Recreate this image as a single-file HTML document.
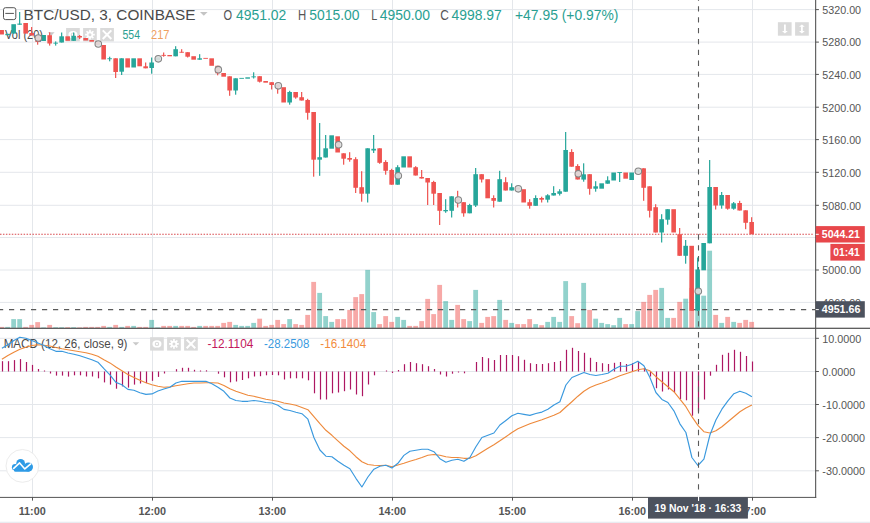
<!DOCTYPE html>
<html><head><meta charset="utf-8"><title>BTC/USD chart</title><style>html,body{margin:0;padding:0;background:#fff;width:870px;height:523px;overflow:hidden}</style></head><body><svg width="870" height="523" viewBox="0 0 870 523" style="position:absolute;left:0;top:0;font-family:'Liberation Sans',sans-serif">
<rect x="0" y="0" width="870" height="523" fill="#ffffff"/>
<rect x="0" y="521.7" width="870" height="2" fill="#e9ebf0"/>
<rect x="32.0" y="0" width="1" height="497" fill="#e4e7eb"/>
<rect x="152.0" y="0" width="1" height="497" fill="#e4e7eb"/>
<rect x="272.0" y="0" width="1" height="497" fill="#e4e7eb"/>
<rect x="392.0" y="0" width="1" height="497" fill="#e4e7eb"/>
<rect x="512.0" y="0" width="1" height="497" fill="#e4e7eb"/>
<rect x="632.0" y="0" width="1" height="497" fill="#e4e7eb"/>
<rect x="752.0" y="0" width="1" height="497" fill="#e4e7eb"/>
<rect x="0" y="9.10" width="815" height="1" fill="#e4e7eb"/>
<rect x="0" y="41.60" width="815" height="1" fill="#e4e7eb"/>
<rect x="0" y="73.90" width="815" height="1" fill="#e4e7eb"/>
<rect x="0" y="106.70" width="815" height="1" fill="#e4e7eb"/>
<rect x="0" y="139.10" width="815" height="1" fill="#e4e7eb"/>
<rect x="0" y="171.80" width="815" height="1" fill="#e4e7eb"/>
<rect x="0" y="204.80" width="815" height="1" fill="#e4e7eb"/>
<rect x="0" y="237.00" width="815" height="1" fill="#e4e7eb"/>
<rect x="0" y="269.50" width="815" height="1" fill="#e4e7eb"/>
<rect x="0" y="301.90" width="815" height="1" fill="#e4e7eb"/>
<rect x="0" y="337.80" width="815" height="1" fill="#e4e7eb"/>
<rect x="0" y="371.00" width="815" height="1" fill="#e4e7eb"/>
<rect x="0" y="404.00" width="815" height="1" fill="#e4e7eb"/>
<rect x="0" y="437.10" width="815" height="1" fill="#e4e7eb"/>
<rect x="0" y="470.30" width="815" height="1" fill="#e4e7eb"/>
<rect x="3.5" y="7.7" width="12.3" height="11.9" rx="2" fill="#fff" stroke="#555" stroke-width="1"/>
<rect x="5.3" y="12.9" width="8.6" height="1" fill="#555"/>
<text x="23.6" y="19.5" font-size="15.5" fill="#4a4a4a" textLength="171.9" lengthAdjust="spacingAndGlyphs">BTC/USD, 3, COINBASE</text>
<path d="M200 12 L207.6 12 L203.8 15.7 Z" fill="#c4c4c4"/>
<g font-size="14.8">
<text x="223.6" y="19.9" fill="#555" textLength="8.6" lengthAdjust="spacingAndGlyphs">O</text><text x="236" y="19.9" fill="#2a9f92" textLength="50.3" lengthAdjust="spacingAndGlyphs">4951.02</text>
<text x="298" y="19.9" fill="#555" textLength="8.2" lengthAdjust="spacingAndGlyphs">H</text><text x="309.3" y="19.9" fill="#2a9f92" textLength="50.2" lengthAdjust="spacingAndGlyphs">5015.00</text>
<text x="371.2" y="19.9" fill="#555" textLength="6" lengthAdjust="spacingAndGlyphs">L</text><text x="379.7" y="19.9" fill="#2a9f92" textLength="50.3" lengthAdjust="spacingAndGlyphs">4950.00</text>
<text x="440.2" y="19.9" fill="#555" textLength="8.6" lengthAdjust="spacingAndGlyphs">C</text><text x="451.5" y="19.9" fill="#2a9f92" textLength="50.2" lengthAdjust="spacingAndGlyphs">4998.97</text>
<text x="515" y="19.9" fill="#2a9f92" textLength="103.5" lengthAdjust="spacingAndGlyphs">+47.95 (+0.97%)</text>
</g>
<text x="5" y="38.8" font-size="12" fill="#4a4a4a" textLength="38" lengthAdjust="spacingAndGlyphs">Vol (20)</text>
<path d="M48 32.3 L54.6 32.3 L51.3 35.7 Z" fill="#c9c9c9"/>
<rect x="66.1" y="28" width="13.7" height="13.4" fill="#dadada"/>
<rect x="83.1" y="28" width="13.7" height="13.4" fill="#dadada"/>
<rect x="100.2" y="28" width="13.7" height="13.4" fill="#dadada"/>
<ellipse cx="72.94999999999999" cy="34.7" rx="4.5" ry="3.6" fill="#fff"/>
<circle cx="72.94999999999999" cy="34.7" r="2.2" fill="#d9d9d9"/>
<circle cx="72.94999999999999" cy="34.7" r="1.1" fill="#fff"/>
<path d="M94.78,33.87 L94.78,35.53 L93.14,35.55 L92.80,36.36 L93.95,37.53 L92.78,38.70 L91.61,37.55 L90.80,37.89 L90.78,39.53 L89.12,39.53 L89.10,37.89 L88.29,37.55 L87.12,38.70 L85.95,37.53 L87.10,36.36 L86.76,35.55 L85.12,35.53 L85.12,33.87 L86.76,33.85 L87.10,33.04 L85.95,31.87 L87.12,30.70 L88.29,31.85 L89.10,31.51 L89.12,29.87 L90.78,29.87 L90.80,31.51 L91.61,31.85 L92.78,30.70 L93.95,31.87 L92.80,33.04 L93.14,33.85Z" fill="#fff"/>
<circle cx="89.94999999999999" cy="34.7" r="1.5" fill="#d9d9d9"/>
<path d="M102.75 30.400000000000002 L111.35 39.0 M111.35 30.400000000000002 L102.75 39.0" stroke="#fff" stroke-width="2" fill="none"/>
<text x="122.5" y="38.9" font-size="12.5" fill="#2a9f92" textLength="17.5" lengthAdjust="spacingAndGlyphs">554</text>
<text x="151" y="38.9" font-size="12.5" fill="#f0a060" textLength="18.5" lengthAdjust="spacingAndGlyphs">217</text>
<rect x="777.9" y="22.2" width="13.7" height="13.5" fill="#dadada"/>
<rect x="795.1" y="22.2" width="13.7" height="13.5" fill="#dadada"/>
<path d="M784 24.6 h1.8 v6.4 h2 l-2.9 2.4 l-2.9 -2.4 h2 z" fill="#fff"/>
<path d="M801.9 24.4 l2.9 2.4 h-2 v4.2 h2 l-2.9 2.4 l-2.9 -2.4 h2 v-4.2 h-2 z" fill="#fff"/>
<text x="3.7" y="348.2" font-size="12" fill="#4a4a4a" textLength="123.8" lengthAdjust="spacingAndGlyphs">MACD (12, 26, close, 9)</text>
<path d="M132.6 342.2 L139.2 342.2 L135.9 345.6 Z" fill="#c9c9c9"/>
<rect x="150.1" y="337.2" width="13.7" height="13.4" fill="#dadada"/>
<rect x="167.1" y="337.2" width="13.7" height="13.4" fill="#dadada"/>
<rect x="184.1" y="337.2" width="13.7" height="13.4" fill="#dadada"/>
<ellipse cx="156.95" cy="343.9" rx="4.5" ry="3.6" fill="#fff"/>
<circle cx="156.95" cy="343.9" r="2.2" fill="#d9d9d9"/>
<circle cx="156.95" cy="343.9" r="1.1" fill="#fff"/>
<path d="M178.78,343.07 L178.78,344.73 L177.14,344.75 L176.80,345.56 L177.95,346.73 L176.78,347.90 L175.61,346.75 L174.80,347.09 L174.78,348.73 L173.12,348.73 L173.10,347.09 L172.29,346.75 L171.12,347.90 L169.95,346.73 L171.10,345.56 L170.76,344.75 L169.12,344.73 L169.12,343.07 L170.76,343.05 L171.10,342.24 L169.95,341.07 L171.12,339.90 L172.29,341.05 L173.10,340.71 L173.12,339.07 L174.78,339.07 L174.80,340.71 L175.61,341.05 L176.78,339.90 L177.95,341.07 L176.80,342.24 L177.14,343.05Z" fill="#fff"/>
<circle cx="173.95" cy="343.9" r="1.5" fill="#d9d9d9"/>
<path d="M186.64999999999998 339.59999999999997 L195.25 348.2 M195.25 339.59999999999997 L186.64999999999998 348.2" stroke="#fff" stroke-width="2" fill="none"/>
<text x="207.5" y="348.3" font-size="12" fill="#c2185b" textLength="45.8" lengthAdjust="spacingAndGlyphs">-12.1104</text>
<text x="264" y="348.3" font-size="12" fill="#3a9be0" textLength="45.4" lengthAdjust="spacingAndGlyphs">-28.2508</text>
<text x="320.3" y="348.3" font-size="12" fill="#f28c3c" textLength="46" lengthAdjust="spacingAndGlyphs">-16.1404</text>
<rect x="-0.75" y="326.90" width="4.8" height="1.00" fill="#ef5350" fill-opacity="0.5"/>
<rect x="5.25" y="326.90" width="4.8" height="1.00" fill="#26a69a" fill-opacity="0.5"/>
<rect x="11.25" y="319.10" width="4.8" height="8.80" fill="#26a69a" fill-opacity="0.5"/>
<rect x="17.25" y="319.10" width="4.8" height="8.80" fill="#26a69a" fill-opacity="0.5"/>
<rect x="23.25" y="326.90" width="4.8" height="1.00" fill="#ef5350" fill-opacity="0.5"/>
<rect x="29.25" y="324.90" width="4.8" height="3.00" fill="#ef5350" fill-opacity="0.5"/>
<rect x="35.25" y="322.10" width="4.8" height="5.80" fill="#ef5350" fill-opacity="0.5"/>
<rect x="41.25" y="327.40" width="4.8" height="0.50" fill="#26a69a" fill-opacity="0.5"/>
<rect x="47.25" y="324.90" width="4.8" height="3.00" fill="#ef5350" fill-opacity="0.5"/>
<rect x="53.25" y="327.20" width="4.8" height="0.70" fill="#26a69a" fill-opacity="0.5"/>
<rect x="59.25" y="327.20" width="4.8" height="0.70" fill="#26a69a" fill-opacity="0.5"/>
<rect x="65.25" y="327.20" width="4.8" height="0.70" fill="#ef5350" fill-opacity="0.5"/>
<rect x="71.25" y="327.20" width="4.8" height="0.70" fill="#26a69a" fill-opacity="0.5"/>
<rect x="77.25" y="327.40" width="4.8" height="0.50" fill="#ef5350" fill-opacity="0.5"/>
<rect x="83.25" y="326.90" width="4.8" height="1.00" fill="#ef5350" fill-opacity="0.5"/>
<rect x="89.25" y="326.90" width="4.8" height="1.00" fill="#ef5350" fill-opacity="0.5"/>
<rect x="95.25" y="326.90" width="4.8" height="1.00" fill="#ef5350" fill-opacity="0.5"/>
<rect x="101.25" y="325.90" width="4.8" height="2.00" fill="#ef5350" fill-opacity="0.5"/>
<rect x="107.25" y="326.90" width="4.8" height="1.00" fill="#26a69a" fill-opacity="0.5"/>
<rect x="113.25" y="324.90" width="4.8" height="3.00" fill="#ef5350" fill-opacity="0.5"/>
<rect x="119.25" y="326.90" width="4.8" height="1.00" fill="#26a69a" fill-opacity="0.5"/>
<rect x="125.25" y="325.90" width="4.8" height="2.00" fill="#ef5350" fill-opacity="0.5"/>
<rect x="131.25" y="325.90" width="4.8" height="2.00" fill="#26a69a" fill-opacity="0.5"/>
<rect x="137.25" y="326.90" width="4.8" height="1.00" fill="#ef5350" fill-opacity="0.5"/>
<rect x="143.25" y="326.90" width="4.8" height="1.00" fill="#ef5350" fill-opacity="0.5"/>
<rect x="149.25" y="319.90" width="4.8" height="8.00" fill="#26a69a" fill-opacity="0.5"/>
<rect x="155.25" y="327.40" width="4.8" height="0.50" fill="#26a69a" fill-opacity="0.5"/>
<rect x="161.25" y="325.90" width="4.8" height="2.00" fill="#ef5350" fill-opacity="0.5"/>
<rect x="167.25" y="325.90" width="4.8" height="2.00" fill="#ef5350" fill-opacity="0.5"/>
<rect x="173.25" y="325.90" width="4.8" height="2.00" fill="#26a69a" fill-opacity="0.5"/>
<rect x="179.25" y="325.90" width="4.8" height="2.00" fill="#ef5350" fill-opacity="0.5"/>
<rect x="185.25" y="325.90" width="4.8" height="2.00" fill="#ef5350" fill-opacity="0.5"/>
<rect x="191.25" y="326.90" width="4.8" height="1.00" fill="#ef5350" fill-opacity="0.5"/>
<rect x="197.25" y="325.90" width="4.8" height="2.00" fill="#26a69a" fill-opacity="0.5"/>
<rect x="203.25" y="325.90" width="4.8" height="2.00" fill="#ef5350" fill-opacity="0.5"/>
<rect x="209.25" y="325.90" width="4.8" height="2.00" fill="#ef5350" fill-opacity="0.5"/>
<rect x="215.25" y="325.90" width="4.8" height="2.00" fill="#ef5350" fill-opacity="0.5"/>
<rect x="221.25" y="322.90" width="4.8" height="5.00" fill="#ef5350" fill-opacity="0.5"/>
<rect x="227.25" y="321.90" width="4.8" height="6.00" fill="#ef5350" fill-opacity="0.5"/>
<rect x="233.25" y="324.90" width="4.8" height="3.00" fill="#26a69a" fill-opacity="0.5"/>
<rect x="239.25" y="325.90" width="4.8" height="2.00" fill="#26a69a" fill-opacity="0.5"/>
<rect x="245.25" y="325.90" width="4.8" height="2.00" fill="#26a69a" fill-opacity="0.5"/>
<rect x="251.25" y="322.90" width="4.8" height="5.00" fill="#26a69a" fill-opacity="0.5"/>
<rect x="257.25" y="318.70" width="4.8" height="9.20" fill="#ef5350" fill-opacity="0.5"/>
<rect x="263.25" y="325.90" width="4.8" height="2.00" fill="#ef5350" fill-opacity="0.5"/>
<rect x="269.25" y="324.90" width="4.8" height="3.00" fill="#ef5350" fill-opacity="0.5"/>
<rect x="275.25" y="319.90" width="4.8" height="8.00" fill="#ef5350" fill-opacity="0.5"/>
<rect x="281.25" y="324.10" width="4.8" height="3.80" fill="#ef5350" fill-opacity="0.5"/>
<rect x="287.25" y="319.10" width="4.8" height="8.80" fill="#26a69a" fill-opacity="0.5"/>
<rect x="293.25" y="324.10" width="4.8" height="3.80" fill="#ef5350" fill-opacity="0.5"/>
<rect x="299.25" y="324.90" width="4.8" height="3.00" fill="#ef5350" fill-opacity="0.5"/>
<rect x="305.25" y="314.90" width="4.8" height="13.00" fill="#ef5350" fill-opacity="0.5"/>
<rect x="311.25" y="281.90" width="4.8" height="46.00" fill="#ef5350" fill-opacity="0.5"/>
<rect x="317.25" y="292.90" width="4.8" height="35.00" fill="#26a69a" fill-opacity="0.5"/>
<rect x="323.25" y="316.10" width="4.8" height="11.80" fill="#26a69a" fill-opacity="0.5"/>
<rect x="329.25" y="321.90" width="4.8" height="6.00" fill="#26a69a" fill-opacity="0.5"/>
<rect x="335.25" y="319.10" width="4.8" height="8.80" fill="#ef5350" fill-opacity="0.5"/>
<rect x="341.25" y="319.10" width="4.8" height="8.80" fill="#ef5350" fill-opacity="0.5"/>
<rect x="347.25" y="309.90" width="4.8" height="18.00" fill="#ef5350" fill-opacity="0.5"/>
<rect x="353.25" y="297.10" width="4.8" height="30.80" fill="#ef5350" fill-opacity="0.5"/>
<rect x="359.25" y="294.10" width="4.8" height="33.80" fill="#ef5350" fill-opacity="0.5"/>
<rect x="365.25" y="269.90" width="4.8" height="58.00" fill="#26a69a" fill-opacity="0.5"/>
<rect x="371.25" y="312.10" width="4.8" height="15.80" fill="#26a69a" fill-opacity="0.5"/>
<rect x="377.25" y="324.10" width="4.8" height="3.80" fill="#ef5350" fill-opacity="0.5"/>
<rect x="383.25" y="316.10" width="4.8" height="11.80" fill="#ef5350" fill-opacity="0.5"/>
<rect x="389.25" y="321.90" width="4.8" height="6.00" fill="#ef5350" fill-opacity="0.5"/>
<rect x="395.25" y="316.90" width="4.8" height="11.00" fill="#26a69a" fill-opacity="0.5"/>
<rect x="401.25" y="319.90" width="4.8" height="8.00" fill="#26a69a" fill-opacity="0.5"/>
<rect x="407.25" y="325.90" width="4.8" height="2.00" fill="#ef5350" fill-opacity="0.5"/>
<rect x="413.25" y="325.90" width="4.8" height="2.00" fill="#ef5350" fill-opacity="0.5"/>
<rect x="419.25" y="321.10" width="4.8" height="6.80" fill="#ef5350" fill-opacity="0.5"/>
<rect x="425.25" y="298.90" width="4.8" height="29.00" fill="#ef5350" fill-opacity="0.5"/>
<rect x="431.25" y="314.10" width="4.8" height="13.80" fill="#ef5350" fill-opacity="0.5"/>
<rect x="437.25" y="284.90" width="4.8" height="43.00" fill="#ef5350" fill-opacity="0.5"/>
<rect x="443.25" y="301.10" width="4.8" height="26.80" fill="#26a69a" fill-opacity="0.5"/>
<rect x="449.25" y="319.90" width="4.8" height="8.00" fill="#26a69a" fill-opacity="0.5"/>
<rect x="455.25" y="304.90" width="4.8" height="23.00" fill="#ef5350" fill-opacity="0.5"/>
<rect x="461.25" y="319.10" width="4.8" height="8.80" fill="#ef5350" fill-opacity="0.5"/>
<rect x="467.25" y="321.10" width="4.8" height="6.80" fill="#26a69a" fill-opacity="0.5"/>
<rect x="473.25" y="289.90" width="4.8" height="38.00" fill="#26a69a" fill-opacity="0.5"/>
<rect x="479.25" y="322.90" width="4.8" height="5.00" fill="#ef5350" fill-opacity="0.5"/>
<rect x="485.25" y="316.90" width="4.8" height="11.00" fill="#ef5350" fill-opacity="0.5"/>
<rect x="491.25" y="316.10" width="4.8" height="11.80" fill="#ef5350" fill-opacity="0.5"/>
<rect x="497.25" y="299.90" width="4.8" height="28.00" fill="#26a69a" fill-opacity="0.5"/>
<rect x="503.25" y="319.90" width="4.8" height="8.00" fill="#ef5350" fill-opacity="0.5"/>
<rect x="509.25" y="322.90" width="4.8" height="5.00" fill="#26a69a" fill-opacity="0.5"/>
<rect x="515.25" y="324.10" width="4.8" height="3.80" fill="#ef5350" fill-opacity="0.5"/>
<rect x="521.25" y="324.10" width="4.8" height="3.80" fill="#ef5350" fill-opacity="0.5"/>
<rect x="527.25" y="319.10" width="4.8" height="8.80" fill="#ef5350" fill-opacity="0.5"/>
<rect x="533.25" y="324.10" width="4.8" height="3.80" fill="#26a69a" fill-opacity="0.5"/>
<rect x="539.25" y="325.20" width="4.8" height="2.70" fill="#ef5350" fill-opacity="0.5"/>
<rect x="545.25" y="321.90" width="4.8" height="6.00" fill="#26a69a" fill-opacity="0.5"/>
<rect x="551.25" y="316.90" width="4.8" height="11.00" fill="#26a69a" fill-opacity="0.5"/>
<rect x="557.25" y="321.90" width="4.8" height="6.00" fill="#26a69a" fill-opacity="0.5"/>
<rect x="563.25" y="281.10" width="4.8" height="46.80" fill="#26a69a" fill-opacity="0.5"/>
<rect x="569.25" y="316.10" width="4.8" height="11.80" fill="#ef5350" fill-opacity="0.5"/>
<rect x="575.25" y="323.20" width="4.8" height="4.70" fill="#ef5350" fill-opacity="0.5"/>
<rect x="581.25" y="282.90" width="4.8" height="45.00" fill="#26a69a" fill-opacity="0.5"/>
<rect x="587.25" y="309.90" width="4.8" height="18.00" fill="#ef5350" fill-opacity="0.5"/>
<rect x="593.25" y="318.70" width="4.8" height="9.20" fill="#26a69a" fill-opacity="0.5"/>
<rect x="599.25" y="322.90" width="4.8" height="5.00" fill="#26a69a" fill-opacity="0.5"/>
<rect x="605.25" y="324.10" width="4.8" height="3.80" fill="#26a69a" fill-opacity="0.5"/>
<rect x="611.25" y="325.20" width="4.8" height="2.70" fill="#26a69a" fill-opacity="0.5"/>
<rect x="617.25" y="317.90" width="4.8" height="10.00" fill="#26a69a" fill-opacity="0.5"/>
<rect x="623.25" y="324.10" width="4.8" height="3.80" fill="#ef5350" fill-opacity="0.5"/>
<rect x="629.25" y="324.10" width="4.8" height="3.80" fill="#26a69a" fill-opacity="0.5"/>
<rect x="635.25" y="311.10" width="4.8" height="16.80" fill="#26a69a" fill-opacity="0.5"/>
<rect x="641.25" y="301.90" width="4.8" height="26.00" fill="#ef5350" fill-opacity="0.5"/>
<rect x="647.25" y="294.90" width="4.8" height="33.00" fill="#ef5350" fill-opacity="0.5"/>
<rect x="653.25" y="289.90" width="4.8" height="38.00" fill="#ef5350" fill-opacity="0.5"/>
<rect x="659.25" y="287.90" width="4.8" height="40.00" fill="#26a69a" fill-opacity="0.5"/>
<rect x="665.25" y="317.90" width="4.8" height="10.00" fill="#26a69a" fill-opacity="0.5"/>
<rect x="671.25" y="317.90" width="4.8" height="10.00" fill="#ef5350" fill-opacity="0.5"/>
<rect x="677.25" y="301.90" width="4.8" height="26.00" fill="#ef5350" fill-opacity="0.5"/>
<rect x="683.25" y="298.70" width="4.8" height="29.20" fill="#26a69a" fill-opacity="0.5"/>
<rect x="689.25" y="287.90" width="4.8" height="40.00" fill="#ef5350" fill-opacity="0.5"/>
<rect x="695.25" y="287.90" width="4.8" height="40.00" fill="#26a69a" fill-opacity="0.5"/>
<rect x="701.25" y="295.70" width="4.8" height="32.20" fill="#26a69a" fill-opacity="0.5"/>
<rect x="707.25" y="250.70" width="4.8" height="77.20" fill="#26a69a" fill-opacity="0.5"/>
<rect x="713.25" y="314.90" width="4.8" height="13.00" fill="#ef5350" fill-opacity="0.5"/>
<rect x="719.25" y="322.90" width="4.8" height="5.00" fill="#26a69a" fill-opacity="0.5"/>
<rect x="725.25" y="316.90" width="4.8" height="11.00" fill="#ef5350" fill-opacity="0.5"/>
<rect x="731.25" y="321.90" width="4.8" height="6.00" fill="#26a69a" fill-opacity="0.5"/>
<rect x="737.25" y="322.90" width="4.8" height="5.00" fill="#ef5350" fill-opacity="0.5"/>
<rect x="743.25" y="319.90" width="4.8" height="8.00" fill="#ef5350" fill-opacity="0.5"/>
<rect x="749.25" y="321.90" width="4.8" height="6.00" fill="#ef5350" fill-opacity="0.5"/>
<rect x="1.90" y="361.20" width="1.2" height="10.30" fill="#ad1762"/>
<rect x="7.90" y="361.20" width="1.2" height="10.30" fill="#ad1762"/>
<rect x="13.90" y="360.10" width="1.2" height="11.40" fill="#ad1762"/>
<rect x="19.90" y="359.10" width="1.2" height="12.40" fill="#ad1762"/>
<rect x="25.90" y="362.00" width="1.2" height="9.50" fill="#ad1762"/>
<rect x="31.90" y="364.90" width="1.2" height="6.60" fill="#ad1762"/>
<rect x="37.90" y="369.00" width="1.2" height="2.50" fill="#ad1762"/>
<rect x="43.90" y="370.50" width="1.2" height="1.00" fill="#ad1762"/>
<rect x="49.90" y="371.50" width="1.2" height="2.00" fill="#ad1762"/>
<rect x="55.90" y="371.50" width="1.2" height="4.10" fill="#ad1762"/>
<rect x="61.90" y="371.50" width="1.2" height="4.10" fill="#ad1762"/>
<rect x="67.90" y="371.50" width="1.2" height="5.10" fill="#ad1762"/>
<rect x="73.90" y="371.50" width="1.2" height="3.80" fill="#ad1762"/>
<rect x="79.90" y="371.50" width="1.2" height="3.80" fill="#ad1762"/>
<rect x="85.90" y="371.50" width="1.2" height="5.00" fill="#ad1762"/>
<rect x="91.90" y="371.50" width="1.2" height="5.00" fill="#ad1762"/>
<rect x="97.90" y="371.50" width="1.2" height="6.80" fill="#ad1762"/>
<rect x="103.90" y="371.50" width="1.2" height="10.90" fill="#ad1762"/>
<rect x="109.90" y="371.50" width="1.2" height="13.10" fill="#ad1762"/>
<rect x="115.90" y="371.50" width="1.2" height="17.20" fill="#ad1762"/>
<rect x="121.90" y="371.50" width="1.2" height="14.90" fill="#ad1762"/>
<rect x="127.90" y="371.50" width="1.2" height="16.10" fill="#ad1762"/>
<rect x="133.90" y="371.50" width="1.2" height="13.10" fill="#ad1762"/>
<rect x="139.90" y="371.50" width="1.2" height="12.00" fill="#ad1762"/>
<rect x="145.90" y="371.50" width="1.2" height="11.60" fill="#ad1762"/>
<rect x="151.90" y="371.50" width="1.2" height="9.30" fill="#ad1762"/>
<rect x="157.90" y="371.50" width="1.2" height="5.40" fill="#ad1762"/>
<rect x="163.90" y="371.50" width="1.2" height="2.00" fill="#ad1762"/>
<rect x="175.90" y="369.20" width="1.2" height="2.30" fill="#ad1762"/>
<rect x="181.90" y="367.80" width="1.2" height="3.70" fill="#ad1762"/>
<rect x="187.90" y="367.80" width="1.2" height="3.70" fill="#ad1762"/>
<rect x="193.90" y="369.80" width="1.2" height="1.70" fill="#ad1762"/>
<rect x="199.90" y="370.50" width="1.2" height="1.00" fill="#ad1762"/>
<rect x="205.90" y="370.30" width="1.2" height="1.20" fill="#ad1762"/>
<rect x="217.90" y="371.50" width="1.2" height="2.20" fill="#ad1762"/>
<rect x="223.90" y="371.50" width="1.2" height="5.80" fill="#ad1762"/>
<rect x="229.90" y="371.50" width="1.2" height="10.80" fill="#ad1762"/>
<rect x="235.90" y="371.50" width="1.2" height="10.00" fill="#ad1762"/>
<rect x="241.90" y="371.50" width="1.2" height="8.50" fill="#ad1762"/>
<rect x="247.90" y="371.50" width="1.2" height="6.80" fill="#ad1762"/>
<rect x="253.90" y="371.50" width="1.2" height="5.00" fill="#ad1762"/>
<rect x="259.90" y="371.50" width="1.2" height="4.70" fill="#ad1762"/>
<rect x="265.90" y="371.50" width="1.2" height="3.80" fill="#ad1762"/>
<rect x="271.90" y="371.50" width="1.2" height="3.50" fill="#ad1762"/>
<rect x="277.90" y="371.50" width="1.2" height="3.80" fill="#ad1762"/>
<rect x="283.90" y="371.50" width="1.2" height="8.00" fill="#ad1762"/>
<rect x="289.90" y="371.50" width="1.2" height="6.80" fill="#ad1762"/>
<rect x="295.90" y="371.50" width="1.2" height="6.80" fill="#ad1762"/>
<rect x="301.90" y="371.50" width="1.2" height="6.80" fill="#ad1762"/>
<rect x="307.90" y="371.50" width="1.2" height="8.80" fill="#ad1762"/>
<rect x="313.90" y="371.50" width="1.2" height="21.80" fill="#ad1762"/>
<rect x="319.90" y="371.50" width="1.2" height="28.00" fill="#ad1762"/>
<rect x="325.90" y="371.50" width="1.2" height="28.00" fill="#ad1762"/>
<rect x="331.90" y="371.50" width="1.2" height="21.80" fill="#ad1762"/>
<rect x="337.90" y="371.50" width="1.2" height="21.00" fill="#ad1762"/>
<rect x="343.90" y="371.50" width="1.2" height="19.70" fill="#ad1762"/>
<rect x="349.90" y="371.50" width="1.2" height="18.00" fill="#ad1762"/>
<rect x="355.90" y="371.50" width="1.2" height="23.00" fill="#ad1762"/>
<rect x="361.90" y="371.50" width="1.2" height="24.70" fill="#ad1762"/>
<rect x="367.90" y="371.50" width="1.2" height="13.00" fill="#ad1762"/>
<rect x="373.90" y="371.50" width="1.2" height="3.80" fill="#ad1762"/>
<rect x="385.90" y="370.50" width="1.2" height="1.00" fill="#ad1762"/>
<rect x="391.90" y="371.50" width="1.2" height="1.50" fill="#ad1762"/>
<rect x="397.90" y="370.00" width="1.2" height="1.50" fill="#ad1762"/>
<rect x="403.90" y="364.20" width="1.2" height="7.30" fill="#ad1762"/>
<rect x="409.90" y="362.00" width="1.2" height="9.50" fill="#ad1762"/>
<rect x="415.90" y="363.20" width="1.2" height="8.30" fill="#ad1762"/>
<rect x="421.90" y="364.20" width="1.2" height="7.30" fill="#ad1762"/>
<rect x="427.90" y="366.20" width="1.2" height="5.30" fill="#ad1762"/>
<rect x="433.90" y="369.00" width="1.2" height="2.50" fill="#ad1762"/>
<rect x="439.90" y="371.50" width="1.2" height="3.00" fill="#ad1762"/>
<rect x="445.90" y="371.50" width="1.2" height="5.00" fill="#ad1762"/>
<rect x="451.90" y="371.50" width="1.2" height="2.20" fill="#ad1762"/>
<rect x="457.90" y="371.50" width="1.2" height="1.00" fill="#ad1762"/>
<rect x="463.90" y="371.50" width="1.2" height="1.80" fill="#ad1762"/>
<rect x="475.90" y="362.00" width="1.2" height="9.50" fill="#ad1762"/>
<rect x="481.90" y="357.00" width="1.2" height="14.50" fill="#ad1762"/>
<rect x="487.90" y="358.20" width="1.2" height="13.30" fill="#ad1762"/>
<rect x="493.90" y="360.00" width="1.2" height="11.50" fill="#ad1762"/>
<rect x="499.90" y="355.00" width="1.2" height="16.50" fill="#ad1762"/>
<rect x="505.90" y="355.00" width="1.2" height="16.50" fill="#ad1762"/>
<rect x="511.90" y="355.00" width="1.2" height="16.50" fill="#ad1762"/>
<rect x="517.90" y="356.20" width="1.2" height="15.30" fill="#ad1762"/>
<rect x="523.90" y="359.80" width="1.2" height="11.70" fill="#ad1762"/>
<rect x="529.90" y="363.20" width="1.2" height="8.30" fill="#ad1762"/>
<rect x="535.90" y="364.00" width="1.2" height="7.50" fill="#ad1762"/>
<rect x="541.90" y="364.00" width="1.2" height="7.50" fill="#ad1762"/>
<rect x="547.90" y="363.20" width="1.2" height="8.30" fill="#ad1762"/>
<rect x="553.90" y="362.00" width="1.2" height="9.50" fill="#ad1762"/>
<rect x="559.90" y="361.00" width="1.2" height="10.50" fill="#ad1762"/>
<rect x="565.90" y="349.80" width="1.2" height="21.70" fill="#ad1762"/>
<rect x="571.90" y="347.80" width="1.2" height="23.70" fill="#ad1762"/>
<rect x="577.90" y="351.00" width="1.2" height="20.50" fill="#ad1762"/>
<rect x="583.90" y="352.80" width="1.2" height="18.70" fill="#ad1762"/>
<rect x="589.90" y="357.80" width="1.2" height="13.70" fill="#ad1762"/>
<rect x="595.90" y="362.00" width="1.2" height="9.50" fill="#ad1762"/>
<rect x="601.90" y="363.20" width="1.2" height="8.30" fill="#ad1762"/>
<rect x="607.90" y="364.00" width="1.2" height="7.50" fill="#ad1762"/>
<rect x="613.90" y="362.80" width="1.2" height="8.70" fill="#ad1762"/>
<rect x="619.90" y="362.00" width="1.2" height="9.50" fill="#ad1762"/>
<rect x="625.90" y="364.00" width="1.2" height="7.50" fill="#ad1762"/>
<rect x="631.90" y="363.20" width="1.2" height="8.30" fill="#ad1762"/>
<rect x="637.90" y="362.00" width="1.2" height="9.50" fill="#ad1762"/>
<rect x="643.90" y="368.20" width="1.2" height="3.30" fill="#ad1762"/>
<rect x="649.90" y="371.50" width="1.2" height="5.00" fill="#ad1762"/>
<rect x="655.90" y="371.50" width="1.2" height="16.70" fill="#ad1762"/>
<rect x="661.90" y="371.50" width="1.2" height="20.00" fill="#ad1762"/>
<rect x="667.90" y="371.50" width="1.2" height="18.00" fill="#ad1762"/>
<rect x="673.90" y="371.50" width="1.2" height="20.80" fill="#ad1762"/>
<rect x="679.90" y="371.50" width="1.2" height="27.50" fill="#ad1762"/>
<rect x="685.90" y="371.50" width="1.2" height="28.80" fill="#ad1762"/>
<rect x="691.90" y="371.50" width="1.2" height="44.20" fill="#ad1762"/>
<rect x="697.90" y="371.50" width="1.2" height="40.00" fill="#ad1762"/>
<rect x="703.90" y="371.50" width="1.2" height="28.00" fill="#ad1762"/>
<rect x="709.90" y="371.50" width="1.2" height="4.20" fill="#ad1762"/>
<rect x="715.90" y="364.80" width="1.2" height="6.70" fill="#ad1762"/>
<rect x="721.90" y="354.80" width="1.2" height="16.70" fill="#ad1762"/>
<rect x="727.90" y="352.80" width="1.2" height="18.70" fill="#ad1762"/>
<rect x="733.90" y="349.80" width="1.2" height="21.70" fill="#ad1762"/>
<rect x="739.90" y="351.80" width="1.2" height="19.70" fill="#ad1762"/>
<rect x="745.90" y="356.00" width="1.2" height="15.50" fill="#ad1762"/>
<rect x="751.90" y="361.50" width="1.2" height="10.00" fill="#ad1762"/>
<path d="M1.9,359.3 L7.9,355.5 L13.9,352.2 L19.9,349.3 L25.9,347.2 L31.9,345.5 L37.9,344.7 L43.9,345.2 L49.9,346.0 L55.9,347.5 L61.9,348.8 L67.9,349.7 L73.9,350.8 L79.9,351.8 L85.9,352.7 L91.9,354.2 L97.9,356.3 L103.9,359.7 L109.9,362.9 L115.9,367.0 L121.9,370.8 L127.9,374.5 L133.9,377.4 L139.9,380.3 L145.9,382.8 L151.9,384.8 L157.9,386.3 L163.9,387.2 L169.9,386.9 L175.9,385.8 L181.9,384.7 L187.9,383.8 L193.9,383.0 L199.9,383.0 L205.9,382.7 L211.9,382.7 L217.9,383.0 L223.9,385.5 L229.9,388.8 L235.9,391.3 L241.9,393.3 L247.9,395.2 L253.9,396.3 L259.9,397.7 L265.9,399.2 L271.9,400.2 L277.9,401.3 L283.9,403.0 L289.9,404.0 L295.9,405.3 L301.9,407.5 L307.9,409.7 L313.9,416.7 L319.9,423.7 L325.9,430.3 L331.9,435.3 L337.9,440.8 L343.9,446.2 L349.9,450.8 L355.9,456.7 L361.9,461.7 L367.9,464.5 L373.9,465.3 L379.9,465.5 L385.9,465.3 L391.9,466.7 L397.9,465.0 L403.9,463.3 L409.9,461.3 L415.9,459.5 L421.9,457.5 L427.9,455.3 L433.9,454.5 L439.9,455.3 L445.9,456.7 L451.9,457.5 L457.9,457.5 L463.9,458.3 L469.9,458.3 L475.9,455.8 L481.9,452.0 L487.9,448.3 L493.9,444.7 L499.9,440.8 L505.9,436.7 L511.9,432.5 L517.9,428.8 L523.9,426.2 L529.9,423.8 L535.9,421.7 L541.9,419.7 L547.9,417.5 L553.9,415.3 L559.9,412.5 L565.9,407.0 L571.9,401.7 L577.9,396.2 L583.9,391.2 L589.9,387.5 L595.9,385.0 L601.9,383.0 L607.9,380.8 L613.9,378.3 L619.9,375.8 L625.9,373.7 L631.9,371.7 L637.9,369.7 L643.9,368.8 L649.9,370.8 L655.9,376.7 L661.9,381.7 L667.9,386.7 L673.9,391.7 L679.9,399.2 L685.9,406.7 L691.9,416.7 L697.9,425.3 L703.9,431.7 L709.9,433.0 L715.9,430.8 L721.9,426.7 L727.9,421.7 L733.9,416.7 L739.9,411.7 L745.9,408.0 L751.9,405.0" fill="none" stroke="#ee8a3c" stroke-width="1.15" stroke-linejoin="round"/>
<path d="M1.9,348.3 L7.9,344.7 L13.9,340.5 L19.9,337.2 L25.9,338.3 L31.9,340.5 L37.9,343.0 L43.9,345.5 L49.9,348.8 L55.9,351.3 L61.9,351.3 L67.9,353.0 L73.9,354.3 L79.9,355.8 L85.9,357.7 L91.9,359.7 L97.9,362.2 L103.9,368.7 L109.9,374.9 L115.9,382.4 L121.9,384.8 L127.9,389.4 L133.9,390.2 L139.9,392.7 L145.9,394.4 L151.9,393.9 L157.9,391.0 L163.9,389.0 L169.9,387.3 L175.9,383.0 L181.9,381.3 L187.9,381.3 L193.9,381.3 L199.9,381.3 L205.9,381.3 L211.9,383.8 L217.9,387.2 L223.9,391.3 L229.9,398.0 L235.9,400.5 L241.9,401.3 L247.9,401.3 L253.9,400.5 L259.9,401.3 L265.9,402.5 L271.9,403.0 L277.9,405.2 L283.9,409.4 L289.9,410.5 L295.9,412.2 L301.9,413.7 L307.9,419.2 L313.9,437.5 L319.9,450.0 L325.9,456.2 L331.9,456.7 L337.9,461.3 L343.9,465.3 L349.9,468.7 L355.9,478.3 L361.9,487.0 L367.9,477.0 L373.9,469.2 L379.9,466.2 L385.9,465.3 L391.9,468.0 L397.9,463.3 L403.9,455.4 L409.9,451.2 L415.9,450.2 L421.9,449.2 L427.9,449.2 L433.9,451.7 L439.9,458.7 L445.9,462.2 L451.9,460.3 L457.9,459.2 L463.9,461.3 L469.9,457.5 L475.9,446.7 L481.9,437.5 L487.9,435.3 L493.9,433.0 L499.9,425.0 L505.9,420.5 L511.9,415.8 L517.9,413.3 L523.9,414.4 L529.9,415.4 L535.9,413.5 L541.9,412.1 L547.9,409.2 L553.9,405.0 L559.9,401.7 L565.9,385.0 L571.9,377.5 L577.9,375.0 L583.9,372.5 L589.9,374.5 L595.9,375.5 L601.9,374.5 L607.9,373.3 L613.9,369.2 L619.9,366.2 L625.9,366.2 L631.9,364.2 L637.9,361.2 L643.9,365.8 L649.9,377.5 L655.9,392.5 L661.9,399.4 L667.9,402.5 L673.9,410.8 L679.9,423.8 L685.9,432.5 L691.9,457.5 L697.9,465.5 L703.9,459.2 L709.9,435.0 L715.9,420.0 L721.9,409.2 L727.9,400.8 L733.9,393.7 L739.9,391.2 L745.9,393.3 L751.9,396.7" fill="none" stroke="#3a99de" stroke-width="1.15" stroke-linejoin="round"/>
<line x1="698.5" y1="0" x2="698.5" y2="497" stroke="#5a5a5a" stroke-width="1.1" stroke-dasharray="5.3,5.56" stroke-dashoffset="4.56"/>
<line x1="0" y1="309.6" x2="815" y2="309.6" stroke="#5a5a5a" stroke-width="1.1" stroke-dasharray="5.2,5.8" stroke-dashoffset="2.0"/>
<line x1="0" y1="234.3" x2="814" y2="234.3" stroke="#d8474c" stroke-width="1.1" stroke-dasharray="1.5,1.45"/>
<rect x="-0.65" y="30.00" width="4.6" height="4.50" fill="#ef5350"/>
<rect x="5.35" y="33.80" width="4.6" height="1.40" fill="#26a69a"/>
<rect x="11.35" y="24.20" width="4.6" height="9.40" fill="#26a69a"/>
<rect x="19.05" y="12.00" width="1.2" height="12.70" fill="#26a69a"/>
<rect x="17.35" y="23.60" width="4.6" height="1.10" fill="#26a69a"/>
<rect x="23.35" y="23.00" width="4.6" height="10.60" fill="#ef5350"/>
<rect x="31.05" y="27.00" width="1.2" height="8.50" fill="#ef5350"/>
<rect x="29.35" y="33.00" width="4.6" height="2.50" fill="#ef5350"/>
<rect x="37.05" y="35.50" width="1.2" height="9.20" fill="#ef5350"/>
<rect x="35.35" y="35.50" width="4.6" height="6.50" fill="#ef5350"/>
<rect x="41.35" y="35.00" width="4.6" height="6.00" fill="#26a69a"/>
<rect x="49.05" y="32.30" width="1.2" height="13.30" fill="#ef5350"/>
<rect x="47.35" y="35.20" width="4.6" height="8.30" fill="#ef5350"/>
<rect x="55.05" y="41.40" width="1.2" height="4.20" fill="#26a69a"/>
<rect x="53.35" y="42.70" width="4.6" height="0.90" fill="#26a69a"/>
<rect x="61.05" y="32.50" width="1.2" height="10.00" fill="#26a69a"/>
<rect x="59.35" y="36.30" width="4.6" height="6.20" fill="#26a69a"/>
<rect x="65.35" y="36.30" width="4.6" height="4.50" fill="#ef5350"/>
<rect x="73.05" y="32.50" width="1.2" height="8.30" fill="#26a69a"/>
<rect x="71.35" y="35.80" width="4.6" height="5.00" fill="#26a69a"/>
<rect x="79.05" y="35.00" width="1.2" height="4.00" fill="#ef5350"/>
<rect x="77.35" y="36.00" width="4.6" height="1.50" fill="#ef5350"/>
<rect x="83.35" y="38.00" width="4.6" height="2.50" fill="#ef5350"/>
<rect x="89.35" y="40.00" width="4.6" height="1.70" fill="#ef5350"/>
<rect x="95.35" y="41.50" width="4.6" height="3.50" fill="#ef5350"/>
<rect x="101.35" y="45.00" width="4.6" height="14.50" fill="#ef5350"/>
<rect x="109.05" y="56.70" width="1.2" height="4.60" fill="#26a69a"/>
<rect x="107.35" y="58.30" width="4.6" height="0.90" fill="#26a69a"/>
<rect x="115.05" y="58.30" width="1.2" height="19.70" fill="#ef5350"/>
<rect x="113.35" y="58.30" width="4.6" height="13.70" fill="#ef5350"/>
<rect x="121.05" y="58.30" width="1.2" height="16.70" fill="#26a69a"/>
<rect x="119.35" y="58.30" width="4.6" height="13.40" fill="#26a69a"/>
<rect x="125.35" y="58.30" width="4.6" height="9.20" fill="#ef5350"/>
<rect x="131.35" y="58.30" width="4.6" height="9.20" fill="#26a69a"/>
<rect x="137.35" y="58.30" width="4.6" height="8.00" fill="#ef5350"/>
<rect x="145.05" y="62.50" width="1.2" height="5.80" fill="#ef5350"/>
<rect x="143.35" y="66.30" width="4.6" height="2.00" fill="#ef5350"/>
<rect x="151.05" y="57.50" width="1.2" height="16.20" fill="#26a69a"/>
<rect x="149.35" y="62.50" width="4.6" height="5.50" fill="#26a69a"/>
<rect x="155.35" y="57.50" width="4.6" height="2.50" fill="#26a69a"/>
<rect x="163.05" y="52.50" width="1.2" height="4.20" fill="#ef5350"/>
<rect x="161.35" y="54.90" width="4.6" height="0.90" fill="#ef5350"/>
<rect x="167.35" y="55.00" width="4.6" height="1.30" fill="#ef5350"/>
<rect x="175.05" y="46.20" width="1.2" height="10.10" fill="#26a69a"/>
<rect x="173.35" y="49.20" width="4.6" height="7.10" fill="#26a69a"/>
<rect x="181.05" y="49.20" width="1.2" height="3.40" fill="#ef5350"/>
<rect x="179.35" y="51.80" width="4.6" height="0.90" fill="#ef5350"/>
<rect x="187.05" y="52.20" width="1.2" height="5.30" fill="#ef5350"/>
<rect x="185.35" y="52.20" width="4.6" height="4.50" fill="#ef5350"/>
<rect x="191.35" y="56.20" width="4.6" height="3.50" fill="#ef5350"/>
<rect x="199.05" y="54.20" width="1.2" height="5.50" fill="#26a69a"/>
<rect x="197.35" y="58.30" width="4.6" height="1.40" fill="#26a69a"/>
<rect x="203.35" y="57.90" width="4.6" height="0.90" fill="#ef5350"/>
<rect x="209.35" y="58.30" width="4.6" height="7.50" fill="#ef5350"/>
<rect x="217.05" y="65.80" width="1.2" height="9.50" fill="#ef5350"/>
<rect x="215.35" y="65.80" width="4.6" height="7.50" fill="#ef5350"/>
<rect x="221.35" y="73.00" width="4.6" height="3.70" fill="#ef5350"/>
<rect x="229.05" y="76.30" width="1.2" height="19.50" fill="#ef5350"/>
<rect x="227.35" y="76.30" width="4.6" height="14.20" fill="#ef5350"/>
<rect x="235.05" y="78.30" width="1.2" height="16.40" fill="#26a69a"/>
<rect x="233.35" y="78.30" width="4.6" height="12.20" fill="#26a69a"/>
<rect x="239.35" y="77.90" width="4.6" height="0.90" fill="#26a69a"/>
<rect x="245.35" y="77.30" width="4.6" height="1.40" fill="#26a69a"/>
<rect x="253.05" y="72.30" width="1.2" height="6.20" fill="#26a69a"/>
<rect x="251.35" y="76.40" width="4.6" height="0.90" fill="#26a69a"/>
<rect x="259.05" y="76.20" width="1.2" height="6.30" fill="#ef5350"/>
<rect x="257.35" y="76.20" width="4.6" height="5.50" fill="#ef5350"/>
<rect x="263.35" y="81.00" width="4.6" height="1.70" fill="#ef5350"/>
<rect x="271.05" y="82.20" width="1.2" height="7.30" fill="#ef5350"/>
<rect x="269.35" y="82.20" width="4.6" height="2.80" fill="#ef5350"/>
<rect x="277.05" y="84.50" width="1.2" height="9.20" fill="#ef5350"/>
<rect x="275.35" y="84.50" width="4.6" height="3.00" fill="#ef5350"/>
<rect x="281.35" y="87.20" width="4.6" height="15.30" fill="#ef5350"/>
<rect x="289.05" y="90.80" width="1.2" height="13.90" fill="#26a69a"/>
<rect x="287.35" y="92.00" width="4.6" height="10.50" fill="#26a69a"/>
<rect x="295.05" y="92.00" width="1.2" height="6.70" fill="#ef5350"/>
<rect x="293.35" y="92.00" width="4.6" height="5.50" fill="#ef5350"/>
<rect x="301.05" y="92.00" width="1.2" height="8.50" fill="#ef5350"/>
<rect x="299.35" y="97.20" width="4.6" height="3.30" fill="#ef5350"/>
<rect x="307.05" y="98.80" width="1.2" height="20.90" fill="#ef5350"/>
<rect x="305.35" y="100.00" width="4.6" height="12.80" fill="#ef5350"/>
<rect x="313.05" y="112.00" width="1.2" height="64.70" fill="#ef5350"/>
<rect x="311.35" y="112.00" width="4.6" height="47.70" fill="#ef5350"/>
<rect x="319.05" y="123.00" width="1.2" height="52.80" fill="#26a69a"/>
<rect x="317.35" y="157.20" width="4.6" height="2.50" fill="#26a69a"/>
<rect x="325.05" y="135.00" width="1.2" height="22.50" fill="#26a69a"/>
<rect x="323.35" y="148.30" width="4.6" height="9.20" fill="#26a69a"/>
<rect x="329.35" y="135.30" width="4.6" height="13.40" fill="#26a69a"/>
<rect x="335.35" y="136.30" width="4.6" height="16.20" fill="#ef5350"/>
<rect x="343.05" y="153.30" width="1.2" height="11.40" fill="#ef5350"/>
<rect x="341.35" y="153.30" width="4.6" height="5.40" fill="#ef5350"/>
<rect x="349.05" y="152.20" width="1.2" height="9.50" fill="#ef5350"/>
<rect x="347.35" y="158.00" width="4.6" height="1.70" fill="#ef5350"/>
<rect x="355.05" y="157.20" width="1.2" height="35.80" fill="#ef5350"/>
<rect x="353.35" y="159.20" width="4.6" height="28.60" fill="#ef5350"/>
<rect x="361.05" y="171.20" width="1.2" height="30.50" fill="#ef5350"/>
<rect x="359.35" y="187.20" width="4.6" height="6.50" fill="#ef5350"/>
<rect x="367.05" y="148.30" width="1.2" height="54.20" fill="#26a69a"/>
<rect x="365.35" y="148.30" width="4.6" height="45.40" fill="#26a69a"/>
<rect x="373.05" y="135.00" width="1.2" height="18.00" fill="#26a69a"/>
<rect x="371.35" y="148.80" width="4.6" height="1.70" fill="#26a69a"/>
<rect x="379.05" y="148.30" width="1.2" height="15.50" fill="#ef5350"/>
<rect x="377.35" y="148.30" width="4.6" height="14.50" fill="#ef5350"/>
<rect x="385.05" y="160.20" width="1.2" height="14.50" fill="#ef5350"/>
<rect x="383.35" y="162.00" width="4.6" height="8.80" fill="#ef5350"/>
<rect x="391.05" y="168.80" width="1.2" height="15.90" fill="#ef5350"/>
<rect x="389.35" y="170.00" width="4.6" height="14.70" fill="#ef5350"/>
<rect x="397.05" y="165.20" width="1.2" height="19.50" fill="#26a69a"/>
<rect x="395.35" y="167.20" width="4.6" height="17.50" fill="#26a69a"/>
<rect x="401.35" y="156.30" width="4.6" height="11.20" fill="#26a69a"/>
<rect x="407.35" y="156.30" width="4.6" height="11.20" fill="#ef5350"/>
<rect x="415.05" y="166.20" width="1.2" height="9.30" fill="#ef5350"/>
<rect x="413.35" y="167.20" width="4.6" height="8.30" fill="#ef5350"/>
<rect x="421.05" y="170.00" width="1.2" height="8.50" fill="#ef5350"/>
<rect x="419.35" y="177.00" width="4.6" height="1.50" fill="#ef5350"/>
<rect x="427.05" y="178.00" width="1.2" height="27.00" fill="#ef5350"/>
<rect x="425.35" y="178.00" width="4.6" height="4.50" fill="#ef5350"/>
<rect x="433.05" y="180.80" width="1.2" height="24.20" fill="#ef5350"/>
<rect x="431.35" y="182.00" width="4.6" height="11.70" fill="#ef5350"/>
<rect x="439.05" y="193.00" width="1.2" height="32.00" fill="#ef5350"/>
<rect x="437.35" y="193.00" width="4.6" height="17.80" fill="#ef5350"/>
<rect x="445.05" y="199.20" width="1.2" height="13.60" fill="#26a69a"/>
<rect x="443.35" y="210.00" width="4.6" height="1.30" fill="#26a69a"/>
<rect x="451.05" y="196.30" width="1.2" height="21.20" fill="#26a69a"/>
<rect x="449.35" y="196.30" width="4.6" height="14.50" fill="#26a69a"/>
<rect x="457.05" y="190.80" width="1.2" height="16.70" fill="#ef5350"/>
<rect x="455.35" y="198.50" width="4.6" height="3.00" fill="#ef5350"/>
<rect x="463.05" y="202.20" width="1.2" height="14.50" fill="#ef5350"/>
<rect x="461.35" y="202.20" width="4.6" height="11.10" fill="#ef5350"/>
<rect x="469.05" y="203.80" width="1.2" height="9.50" fill="#26a69a"/>
<rect x="467.35" y="205.00" width="4.6" height="8.30" fill="#26a69a"/>
<rect x="475.05" y="168.00" width="1.2" height="39.00" fill="#26a69a"/>
<rect x="473.35" y="174.20" width="4.6" height="31.30" fill="#26a69a"/>
<rect x="481.05" y="174.20" width="1.2" height="8.30" fill="#ef5350"/>
<rect x="479.35" y="174.20" width="4.6" height="5.30" fill="#ef5350"/>
<rect x="485.35" y="179.20" width="4.6" height="19.10" fill="#ef5350"/>
<rect x="493.05" y="195.30" width="1.2" height="12.20" fill="#ef5350"/>
<rect x="491.35" y="198.00" width="4.6" height="2.80" fill="#ef5350"/>
<rect x="499.05" y="170.80" width="1.2" height="30.90" fill="#26a69a"/>
<rect x="497.35" y="179.20" width="4.6" height="22.50" fill="#26a69a"/>
<rect x="505.05" y="177.20" width="1.2" height="13.30" fill="#ef5350"/>
<rect x="503.35" y="182.20" width="4.6" height="8.30" fill="#ef5350"/>
<rect x="511.05" y="183.30" width="1.2" height="7.20" fill="#26a69a"/>
<rect x="509.35" y="187.20" width="4.6" height="3.30" fill="#26a69a"/>
<rect x="515.35" y="187.50" width="4.6" height="2.00" fill="#ef5350"/>
<rect x="521.35" y="189.20" width="4.6" height="13.30" fill="#ef5350"/>
<rect x="529.05" y="199.20" width="1.2" height="9.50" fill="#ef5350"/>
<rect x="527.35" y="202.20" width="4.6" height="3.60" fill="#ef5350"/>
<rect x="535.05" y="195.30" width="1.2" height="10.50" fill="#26a69a"/>
<rect x="533.35" y="198.00" width="4.6" height="7.80" fill="#26a69a"/>
<rect x="541.05" y="196.70" width="1.2" height="5.80" fill="#ef5350"/>
<rect x="539.35" y="198.00" width="4.6" height="1.70" fill="#ef5350"/>
<rect x="547.05" y="194.20" width="1.2" height="8.30" fill="#26a69a"/>
<rect x="545.35" y="195.30" width="4.6" height="4.40" fill="#26a69a"/>
<rect x="553.05" y="186.20" width="1.2" height="9.30" fill="#26a69a"/>
<rect x="551.35" y="193.00" width="4.6" height="2.50" fill="#26a69a"/>
<rect x="559.05" y="189.20" width="1.2" height="6.30" fill="#26a69a"/>
<rect x="557.35" y="191.30" width="4.6" height="2.50" fill="#26a69a"/>
<rect x="565.05" y="132.00" width="1.2" height="59.70" fill="#26a69a"/>
<rect x="563.35" y="150.00" width="4.6" height="41.70" fill="#26a69a"/>
<rect x="571.05" y="149.20" width="1.2" height="17.50" fill="#ef5350"/>
<rect x="569.35" y="152.00" width="4.6" height="14.70" fill="#ef5350"/>
<rect x="577.05" y="164.20" width="1.2" height="15.30" fill="#ef5350"/>
<rect x="575.35" y="166.00" width="4.6" height="13.50" fill="#ef5350"/>
<rect x="583.05" y="163.30" width="1.2" height="18.40" fill="#26a69a"/>
<rect x="581.35" y="174.30" width="4.6" height="5.30" fill="#26a69a"/>
<rect x="589.05" y="174.20" width="1.2" height="20.50" fill="#ef5350"/>
<rect x="587.35" y="174.20" width="4.6" height="14.60" fill="#ef5350"/>
<rect x="595.05" y="181.20" width="1.2" height="10.50" fill="#26a69a"/>
<rect x="593.35" y="186.30" width="4.6" height="2.40" fill="#26a69a"/>
<rect x="599.35" y="183.30" width="4.6" height="5.40" fill="#26a69a"/>
<rect x="607.05" y="176.30" width="1.2" height="7.40" fill="#26a69a"/>
<rect x="605.35" y="180.30" width="4.6" height="3.40" fill="#26a69a"/>
<rect x="611.35" y="172.50" width="4.6" height="8.00" fill="#26a69a"/>
<rect x="619.05" y="172.10" width="1.2" height="9.90" fill="#26a69a"/>
<rect x="617.35" y="172.10" width="4.6" height="0.90" fill="#26a69a"/>
<rect x="623.35" y="172.50" width="4.6" height="6.20" fill="#ef5350"/>
<rect x="629.35" y="172.50" width="4.6" height="7.50" fill="#26a69a"/>
<rect x="635.35" y="170.00" width="4.6" height="2.50" fill="#26a69a"/>
<rect x="643.05" y="168.30" width="1.2" height="32.50" fill="#ef5350"/>
<rect x="641.35" y="168.30" width="4.6" height="19.50" fill="#ef5350"/>
<rect x="649.05" y="186.30" width="1.2" height="31.20" fill="#ef5350"/>
<rect x="647.35" y="186.30" width="4.6" height="24.50" fill="#ef5350"/>
<rect x="655.05" y="204.20" width="1.2" height="28.30" fill="#ef5350"/>
<rect x="653.35" y="207.20" width="4.6" height="25.30" fill="#ef5350"/>
<rect x="661.05" y="214.20" width="1.2" height="28.30" fill="#26a69a"/>
<rect x="659.35" y="219.20" width="4.6" height="13.30" fill="#26a69a"/>
<rect x="667.05" y="209.20" width="1.2" height="15.50" fill="#26a69a"/>
<rect x="665.35" y="209.20" width="4.6" height="10.50" fill="#26a69a"/>
<rect x="671.35" y="209.20" width="4.6" height="23.30" fill="#ef5350"/>
<rect x="679.05" y="228.00" width="1.2" height="27.80" fill="#ef5350"/>
<rect x="677.35" y="234.20" width="4.6" height="21.60" fill="#ef5350"/>
<rect x="685.05" y="240.00" width="1.2" height="23.70" fill="#26a69a"/>
<rect x="683.35" y="245.80" width="4.6" height="10.00" fill="#26a69a"/>
<rect x="689.35" y="245.80" width="4.6" height="65.00" fill="#ef5350"/>
<rect x="697.05" y="257.50" width="1.2" height="53.50" fill="#26a69a"/>
<rect x="695.35" y="269.50" width="4.6" height="41.00" fill="#26a69a"/>
<rect x="701.35" y="243.00" width="4.6" height="27.30" fill="#26a69a"/>
<rect x="709.05" y="160.00" width="1.2" height="83.30" fill="#26a69a"/>
<rect x="707.35" y="187.00" width="4.6" height="56.30" fill="#26a69a"/>
<rect x="715.05" y="187.00" width="1.2" height="22.50" fill="#ef5350"/>
<rect x="713.35" y="187.00" width="4.6" height="18.50" fill="#ef5350"/>
<rect x="721.05" y="192.00" width="1.2" height="16.70" fill="#26a69a"/>
<rect x="719.35" y="195.00" width="4.6" height="10.50" fill="#26a69a"/>
<rect x="727.05" y="195.00" width="1.2" height="14.70" fill="#ef5350"/>
<rect x="725.35" y="195.00" width="4.6" height="13.70" fill="#ef5350"/>
<rect x="733.05" y="202.00" width="1.2" height="7.70" fill="#26a69a"/>
<rect x="731.35" y="203.30" width="4.6" height="5.40" fill="#26a69a"/>
<rect x="739.05" y="200.80" width="1.2" height="9.70" fill="#ef5350"/>
<rect x="737.35" y="203.00" width="4.6" height="7.50" fill="#ef5350"/>
<rect x="745.05" y="210.30" width="1.2" height="18.90" fill="#ef5350"/>
<rect x="743.35" y="210.30" width="4.6" height="12.50" fill="#ef5350"/>
<rect x="751.05" y="217.20" width="1.2" height="17.00" fill="#ef5350"/>
<rect x="749.35" y="222.00" width="4.6" height="12.20" fill="#ef5350"/>
<circle cx="38.3" cy="38" r="3.3" fill="#dedede" fill-opacity="0.92" stroke="#858585" stroke-width="1.05"/>
<circle cx="98.3" cy="44" r="3.3" fill="#dedede" fill-opacity="0.92" stroke="#858585" stroke-width="1.05"/>
<circle cx="158.3" cy="58.8" r="3.3" fill="#dedede" fill-opacity="0.92" stroke="#858585" stroke-width="1.05"/>
<circle cx="218.3" cy="69.7" r="3.3" fill="#dedede" fill-opacity="0.92" stroke="#858585" stroke-width="1.05"/>
<circle cx="278.3" cy="85.8" r="3.3" fill="#dedede" fill-opacity="0.92" stroke="#858585" stroke-width="1.05"/>
<circle cx="338.6" cy="144.7" r="3.3" fill="#dedede" fill-opacity="0.92" stroke="#858585" stroke-width="1.05"/>
<circle cx="398.3" cy="175.8" r="3.3" fill="#dedede" fill-opacity="0.92" stroke="#858585" stroke-width="1.05"/>
<circle cx="458.3" cy="200" r="3.3" fill="#dedede" fill-opacity="0.92" stroke="#858585" stroke-width="1.05"/>
<circle cx="518.3" cy="188.8" r="3.3" fill="#dedede" fill-opacity="0.92" stroke="#858585" stroke-width="1.05"/>
<circle cx="578.3" cy="173.8" r="3.3" fill="#dedede" fill-opacity="0.92" stroke="#858585" stroke-width="1.05"/>
<circle cx="638.3" cy="171.2" r="3.3" fill="#dedede" fill-opacity="0.92" stroke="#858585" stroke-width="1.05"/>
<circle cx="698.3" cy="291.2" r="3.3" fill="#dedede" fill-opacity="0.92" stroke="#858585" stroke-width="1.05"/>
<rect x="0" y="327.7" width="870" height="1.2" fill="#4d4d4d"/>
<rect x="815.1" y="0" width="1.1" height="498" fill="#555555"/>
<rect x="0" y="496.9" width="816.2" height="1" fill="#555555"/>
<rect x="815.5" y="9.10" width="3.4" height="1" fill="#555555"/>
<text x="822.3" y="13.90" font-size="10.8" fill="#555555" textLength="38.8" lengthAdjust="spacingAndGlyphs">5320.00</text>
<rect x="815.5" y="41.60" width="3.4" height="1" fill="#555555"/>
<text x="822.3" y="46.40" font-size="10.8" fill="#555555" textLength="38.8" lengthAdjust="spacingAndGlyphs">5280.00</text>
<rect x="815.5" y="73.90" width="3.4" height="1" fill="#555555"/>
<text x="822.3" y="78.70" font-size="10.8" fill="#555555" textLength="38.8" lengthAdjust="spacingAndGlyphs">5240.00</text>
<rect x="815.5" y="106.70" width="3.4" height="1" fill="#555555"/>
<text x="822.3" y="111.50" font-size="10.8" fill="#555555" textLength="38.8" lengthAdjust="spacingAndGlyphs">5200.00</text>
<rect x="815.5" y="139.10" width="3.4" height="1" fill="#555555"/>
<text x="822.3" y="143.90" font-size="10.8" fill="#555555" textLength="38.8" lengthAdjust="spacingAndGlyphs">5160.00</text>
<rect x="815.5" y="171.80" width="3.4" height="1" fill="#555555"/>
<text x="822.3" y="176.60" font-size="10.8" fill="#555555" textLength="38.8" lengthAdjust="spacingAndGlyphs">5120.00</text>
<rect x="815.5" y="204.80" width="3.4" height="1" fill="#555555"/>
<text x="822.3" y="209.60" font-size="10.8" fill="#555555" textLength="38.8" lengthAdjust="spacingAndGlyphs">5080.00</text>
<rect x="815.5" y="237.00" width="3.4" height="1" fill="#555555"/>
<text x="822.3" y="241.80" font-size="10.8" fill="#555555" textLength="38.8" lengthAdjust="spacingAndGlyphs">5040.00</text>
<rect x="815.5" y="269.50" width="3.4" height="1" fill="#555555"/>
<text x="822.3" y="274.30" font-size="10.8" fill="#555555" textLength="38.8" lengthAdjust="spacingAndGlyphs">5000.00</text>
<rect x="815.5" y="301.90" width="3.4" height="1" fill="#555555"/>
<text x="822.3" y="306.70" font-size="10.8" fill="#555555" textLength="38.8" lengthAdjust="spacingAndGlyphs">4960.00</text>
<rect x="815.5" y="337.80" width="3.4" height="1" fill="#555555"/>
<text x="822.3" y="342.60" font-size="10.8" fill="#555555">10.0000</text>
<rect x="815.5" y="371.00" width="3.4" height="1" fill="#555555"/>
<text x="822.3" y="375.80" font-size="10.8" fill="#555555">0.0000</text>
<rect x="815.5" y="404.00" width="3.4" height="1" fill="#555555"/>
<text x="822.3" y="408.80" font-size="10.8" fill="#555555">-10.0000</text>
<rect x="815.5" y="437.10" width="3.4" height="1" fill="#555555"/>
<text x="822.3" y="441.90" font-size="10.8" fill="#555555">-20.0000</text>
<rect x="815.5" y="470.30" width="3.4" height="1" fill="#555555"/>
<text x="822.3" y="475.10" font-size="10.8" fill="#555555">-30.0000</text>
<rect x="815.8" y="226.1" width="49" height="16.4" fill="#e8474b"/>
<text x="821.8" y="237.8" font-size="10.6" font-weight="bold" fill="#fff" textLength="38.1" lengthAdjust="spacingAndGlyphs">5044.21</text>
<rect x="815.8" y="233.8" width="3" height="1" fill="#fff"/>
<rect x="830.4" y="243.9" width="34.4" height="16.7" fill="#e8474b"/>
<text x="833.3" y="255.9" font-size="10.6" font-weight="bold" fill="#fff" textLength="26.4" lengthAdjust="spacingAndGlyphs">01:41</text>
<rect x="815.8" y="301.2" width="49" height="16.4" fill="#4c525e"/>
<text x="821.8" y="313.2" font-size="10.6" font-weight="bold" fill="#fff" textLength="38.6" lengthAdjust="spacingAndGlyphs">4951.66</text>
<rect x="815.8" y="309.1" width="3" height="1" fill="#fff"/>
<rect x="32.0" y="497" width="1" height="3.6" fill="#555555"/>
<text x="32.2" y="514.6" font-size="10.8" font-weight="bold" fill="#555555" text-anchor="middle">11:00</text>
<rect x="152.0" y="497" width="1" height="3.6" fill="#555555"/>
<text x="152.2" y="514.6" font-size="10.8" font-weight="bold" fill="#555555" text-anchor="middle">12:00</text>
<rect x="272.0" y="497" width="1" height="3.6" fill="#555555"/>
<text x="272.2" y="514.6" font-size="10.8" font-weight="bold" fill="#555555" text-anchor="middle">13:00</text>
<rect x="392.0" y="497" width="1" height="3.6" fill="#555555"/>
<text x="392.2" y="514.6" font-size="10.8" font-weight="bold" fill="#555555" text-anchor="middle">14:00</text>
<rect x="512.0" y="497" width="1" height="3.6" fill="#555555"/>
<text x="512.2" y="514.6" font-size="10.8" font-weight="bold" fill="#555555" text-anchor="middle">15:00</text>
<rect x="632.0" y="497" width="1" height="3.6" fill="#555555"/>
<text x="632.2" y="514.6" font-size="10.8" font-weight="bold" fill="#555555" text-anchor="middle">16:00</text>
<rect x="752.0" y="497" width="1" height="3.6" fill="#555555"/>
<text x="752.2" y="514.6" font-size="10.8" font-weight="bold" fill="#555555" text-anchor="middle">17:00</text>
<rect x="648" y="497.2" width="99.9" height="21.4" fill="#4c525e"/>
<rect x="698" y="494.5" width="1.1" height="6.5" fill="#fff"/>
<text x="654.5" y="511.9" font-size="10.6" font-weight="bold" fill="#fff" textLength="86.9" lengthAdjust="spacingAndGlyphs">19 Nov '18 · 16:33</text>
<circle cx="22.4" cy="465.9" r="16.4" fill="#fff" stroke="#ececec" stroke-width="1"/>
<g fill="#2e9be6"><circle cx="15.2" cy="467.2" r="3.3"/><circle cx="20.6" cy="463.4" r="4.4"/><circle cx="28.4" cy="467" r="4.6"/><rect x="14" y="465" width="16" height="6.7" rx="1.5"/></g>
<path d="M13.2,468.9 L19.6,462.9 L24.8,468.9 L31,463.6" fill="none" stroke="#fff" stroke-width="1.6" stroke-linejoin="round"/>
</svg></body></html>
